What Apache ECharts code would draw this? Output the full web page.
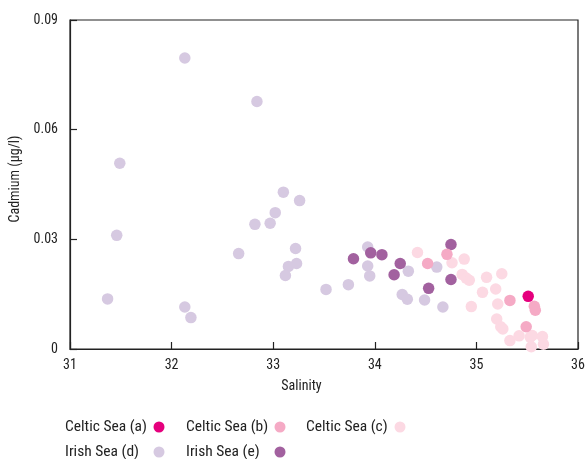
<!DOCTYPE html>
<html><head><meta charset="utf-8">
<script src="https://cdn.jsdelivr.net/npm/echarts@6/dist/echarts.min.js"></script>
<style>html,body{margin:0;padding:0;background:#fff}#c{width:588px;height:459px}</style>
</head><body><div id="c"></div>
<script>
const seriesNames = ['Celtic Sea (a)','Celtic Sea (b)','Celtic Sea (c)','Irish Sea (d)','Irish Sea (e)'];
const xTicks = [31,32,33,34,35,36];
const yTicks = [0,0.03,0.06,0.09];
const celticA = [[35.51,0.0144]];
const celticB = [[34.71,0.0259],[34.52,0.0234],[35.33,0.0133],[35.57,0.0117],[35.58,0.0106],[35.49,0.0061]];
const celticC = [[34.42,0.0264],[34.76,0.0236],[34.88,0.0246],[34.86,0.0204],[34.90,0.0194],[34.93,0.0188],
  [34.95,0.0116],[35.06,0.0155],[35.10,0.0196],[35.19,0.0164],[35.25,0.0206],[35.21,0.0123],[35.20,0.0082],
  [35.24,0.0061],[35.26,0.0055],[35.33,0.0023],[35.42,0.0036],[35.53,0.0032],[35.55,0.0037],[35.54,0.0006],
  [35.65,0.0034],[35.66,0.0013]];
const irishD = [[32.13,0.0796],[32.84,0.0677],[31.49,0.0508],[31.46,0.0311],[31.37,0.0137],[32.13,0.0115],
  [32.19,0.0086],[33.10,0.0429],[33.26,0.0406],[33.02,0.0373],[32.82,0.0341],[32.97,0.0344],[32.66,0.0261],
  [33.22,0.0275],[33.23,0.0234],[33.15,0.0226],[33.12,0.0201],[33.52,0.0163],[33.74,0.0176],[33.93,0.0279],
  [33.93,0.0227],[33.95,0.0200],[34.33,0.0213],[34.27,0.0149],[34.32,0.0136],[34.49,0.0134],[34.61,0.0224],
  [34.67,0.0115]];
const irishE = [[33.79,0.0247],[33.96,0.0263],[34.07,0.0258],[34.25,0.0234],[34.19,0.0203],[34.53,0.0166],
  [34.75,0.0286],[34.75,0.0190]];
const colors = ['#e5007d','#f5aac5','#fcd9e3','#d6c9e1','#a2619f'];
const dataSets = [celticA, celticB, celticC, irishD, irishE];

const FONT = '"Roboto Condensed","DejaVu Sans Condensed",sans-serif';
const FS = 14, LFS = 15.5;
const TXT = '#222';
const cv = document.createElement('canvas').getContext('2d');
cv.font = LFS + 'px "Roboto Condensed"';
const COLW = 83.5;
const chart = echarts.init(document.getElementById('c'));
const legendPos = [[65,419],[186,419],[306,419],[65,444],[186,444]];
const drawOrder = [3,4,2,1,0];
chart.setOption({
  animation:false,
  textStyle:{fontFamily:FONT},
  grid:{left:68,right:10,top:20,bottom:110,show:true,borderColor:'#222',borderWidth:1.2,backgroundColor:'transparent'},
  xAxis:{type:'value',min:xTicks[0],max:xTicks[xTicks.length-1],interval:1,
    name:'Salinity',nameLocation:'middle',nameGap:30,
    nameTextStyle:{fontFamily:FONT,fontSize:FS,color:TXT,padding:[0,45,0,0]},
    axisLine:{show:true,lineStyle:{color:'#222',width:1.2}},
    axisTick:{show:true,inside:true,length:7,lineStyle:{color:'#222',width:1.2}},
    axisLabel:{fontFamily:FONT,fontSize:FS,color:TXT,margin:9},
    splitLine:{show:false}},
  yAxis:{type:'value',min:yTicks[0],max:yTicks[yTicks.length-1],interval:0.03,
    name:'Cadmium (µg/l)',nameLocation:'middle',nameGap:48,
    nameTextStyle:{fontFamily:FONT,fontSize:FS,color:TXT,padding:[0,0,0,11]},
    axisLine:{show:true,lineStyle:{color:'#222',width:1.2}},
    axisTick:{show:true,inside:true,length:7,lineStyle:{color:'#222',width:1.2}},
    axisLabel:{fontFamily:FONT,fontSize:FS,color:TXT,margin:12,formatter:v=>v===0?'0':v.toFixed(2)},
    splitLine:{show:false}},
  legend: seriesNames.map((n,i)=>{
    const pad = Math.max(0, COLW - cv.measureText(n).width);
    return {
      data:[n],left:legendPos[i][0],top:legendPos[i][1],align:'right',icon:'circle',
      itemWidth:11,itemHeight:11,itemGap:0,padding:0,selectedMode:false,
      formatter:name=>'{t|'+name+'}',
      textStyle:{fontFamily:FONT,fontSize:LFS,color:TXT,
        rich:{t:{fontFamily:FONT,fontSize:LFS,color:TXT,padding:[0,pad,0,0]}}}
    };
  }),
  series: drawOrder.map(i=>({
    name:seriesNames[i],type:'scatter',data:dataSets[i],symbol:'circle',symbolSize:11.5,
    itemStyle:{color:colors[i],opacity:1},z:2
  }))
});
</script></body></html>
